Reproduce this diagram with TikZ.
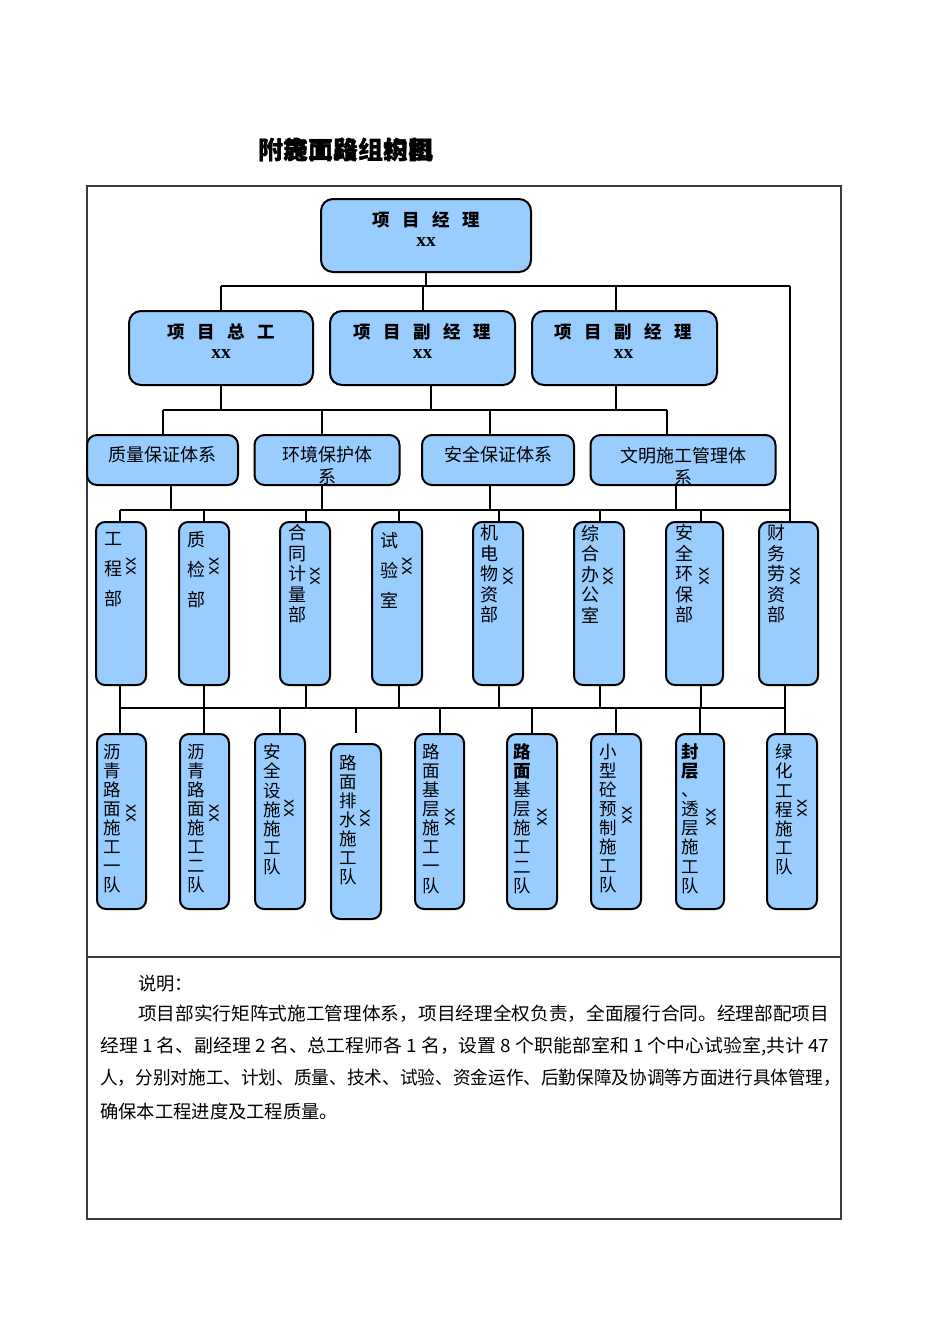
\documentclass[tikz,border=0pt]{standalone}
\usepackage{fontspec}
\usepackage{graphicx}
\setmainfont{Noto Sans CJK SC}
\newfontfamily\serifx{Liberation Serif}
\newfontfamily\sansx{Liberation Sans}
\usetikzlibrary{calc}
\definecolor{boxblue}{HTML}{99CCFF}
\definecolor{framegray}{HTML}{3A3A3A}
\newcommand\sep{\hspace{12.5pt}}
\begin{document}
\begin{tikzpicture}[x=1pt,y=-1pt,
  bx/.style={draw=black, line width=2pt, fill=boxblue, rounded corners=12pt, inner sep=0pt},
  vb/.style={bx, rounded corners=9pt},
  ln/.style={line width=2pt, draw=black},
  hd/.style={inner sep=0pt, font=\fontsize{17.5}{20}\selectfont\bfseries},
  xxb/.style={inner sep=0pt, font=\fontsize{19.5}{20}\selectfont\serifx\bfseries},
  sys/.style={inner sep=0pt, align=center, font=\fontsize{18}{22}\selectfont},
  colA/.style={inner sep=0pt, align=center, font=\fontsize{18}{30}\selectfont},
  colB/.style={inner sep=0pt, align=center, font=\fontsize{18}{20.5}\selectfont},
  colT/.style={inner sep=0pt, align=center, font=\fontsize{17.5}{19.1}\selectfont},
  xr/.style={inner sep=0pt, rotate=-90, font=\fontsize{17.5}{20}\selectfont\sansx},
  desc/.style={inner sep=0pt, anchor=west, font=\fontsize{18.3}{20}\selectfont},
  ttl/.style={inner sep=0pt, font=\fontsize{25}{27}\selectfont\bfseries}
]
\useasboundingbox (0,0) rectangle (950,1344);
\fill[white] (0,0) rectangle (950,1344);

% title (overlapping text as printed)
\node[ttl] (titleA) at (346,150) {附施面路组构图};
\node[ttl] (titleB) at (346,150) {附表工段组织机};

% frame
\draw[framegray, line width=1.3pt] (87,186) rectangle (841,1219);
\draw[framegray, line width=1.3pt] (87,957) -- (841,957);

% level 0
\node[bx, minimum width=210pt, minimum height=73pt] (pm) at (426,235.5) {};
\node[hd] (pmt) at (426,220) {项\sep 目\sep 经\sep 理};
\node[xxb] (pmx) at (426,242) {xx};

% level 1
\node[bx, minimum width=184pt, minimum height=74pt] (zong) at (221,348) {};
\node[bx, minimum width=185pt, minimum height=74pt] (fu1) at (422.5,348) {};
\node[bx, minimum width=185pt, minimum height=74pt] (fu2) at (624.5,348) {};
\node[hd] (zongt) at (221,332) {项\sep 目\sep 总\sep 工};
\node[xxb] (zongx) at (221,354) {xx};
\node[hd] (fu1t) at (422.5,332) {项\sep 目\sep 副\sep 经\sep 理};
\node[xxb] (fu1x) at (422.5,354) {xx};
\node[hd] (fu2t) at (623.5,332) {项\sep 目\sep 副\sep 经\sep 理};
\node[xxb] (fu2x) at (623.5,354) {xx};

% level 2
\node[bx, rounded corners=10pt, minimum width=151pt, minimum height=50pt] (zl) at (162.5,460) {};
\node[bx, rounded corners=10pt, minimum width=145pt, minimum height=50pt] (hj) at (327,460) {};
\node[bx, rounded corners=10pt, minimum width=152pt, minimum height=50pt] (aq) at (498,460) {};
\node[bx, rounded corners=10pt, minimum width=185pt, minimum height=50pt] (wm) at (683,460) {};
\node[sys] (zlt) at (162.5,455) {质量保证体系};
\node[sys] (hjt) at (327,466) {环境保护体\\系};
\node[sys] (aqt) at (498,455) {安全保证体系};
\node[sys] (wmt) at (683.5,466) {文明施工管理体\\系};

% level 3 departments
\node[vb, minimum width=50pt, minimum height=163pt] (d1) at (121,603.5) {};
\node[vb, minimum width=50pt, minimum height=163pt] (d2) at (204,603.5) {};
\node[vb, minimum width=50pt, minimum height=163pt] (d3) at (305,603.5) {};
\node[vb, minimum width=50pt, minimum height=163pt] (d4) at (397,603.5) {};
\node[vb, minimum width=50pt, minimum height=163pt] (d5) at (498,603.5) {};
\node[vb, minimum width=50pt, minimum height=163pt] (d6) at (599,603.5) {};
\node[vb, minimum width=57pt, minimum height=163pt] (d7) at (694.5,603.5) {};
\node[vb, minimum width=59pt, minimum height=163pt] (d8) at (788.5,603.5) {};

\node[colA] (d1t) at (113,570) {工\\程\\部};
\node[colA] (d2t) at (196,570) {质\\检\\部};
\node[colB] (d3t) at (297,574) {合\\同\\计\\量\\部};
\node[colA] (d4t) at (389,570) {试\\验\\室};
\node[colB] (d5t) at (489,574) {机\\电\\物\\资\\部};
\node[colB] (d6t) at (590,574) {综\\合\\办\\公\\室};
\node[colB] (d7t) at (684,574) {安\\全\\环\\保\\部};
\node[colB] (d8t) at (776,574) {财\\务\\劳\\资\\部};

\node[xr] (d1x) at (131,566) {xx};
\node[xr] (d2x) at (214,566) {xx};
\node[xr] (d3x) at (315,576) {xx};
\node[xr] (d4x) at (407,566) {xx};
\node[xr] (d5x) at (508,576) {xx};
\node[xr] (d6x) at (608,576) {xx};
\node[xr] (d7x) at (704,576) {xx};
\node[xr] (d8x) at (795,576) {xx};

% level 4 teams
\node[vb, minimum width=49pt, minimum height=175pt] (t1) at (121.5,821.5) {};
\node[vb, minimum width=49pt, minimum height=175pt] (t2) at (204.5,821.5) {};
\node[vb, minimum width=50pt, minimum height=175pt] (t3) at (280,821.5) {};
\node[vb, minimum width=50pt, minimum height=175pt] (t4) at (356,831.5) {};
\node[vb, minimum width=49pt, minimum height=175pt] (t5) at (439.5,821.5) {};
\node[vb, minimum width=50pt, minimum height=175pt] (t6) at (532,821.5) {};
\node[vb, minimum width=50pt, minimum height=175pt] (t7) at (616,821.5) {};
\node[vb, minimum width=48pt, minimum height=175pt] (t8) at (700,821.5) {};
\node[vb, minimum width=50pt, minimum height=175pt] (t9) at (792,821.5) {};

\node[colT] (t1t) at (112,818.5) {沥\\青\\路\\面\\施\\工\\一\\队};
\node[colT] (t2t) at (196,818.5) {沥\\青\\路\\面\\施\\工\\二\\队};
\node[colT] (t3t) at (272,809.5) {安\\全\\设\\施\\施\\工\\队};
\node[colT] (t4t) at (348,820) {路\\面\\排\\水\\施\\工\\队};
\node[colT] (t5t) at (431,818.5) {路\\面\\基\\层\\施\\工\\一\\队};
\node[colT] (t6t) at (522,818.5) {{\bfseries 路}\\{\bfseries 面}\\基\\层\\施\\工\\二\\队};
\node[colT] (t7t) at (608,818.5) {小\\型\\砼\\预\\制\\施\\工\\队};
\node[colT] (t8t) at (690,818.5) {{\bfseries 封}\\{\bfseries 层}\\、\\透\\层\\施\\工\\队};
\node[colT] (t9t) at (784,809.5) {绿\\化\\工\\程\\施\\工\\队};

\node[xr] (t1x) at (131,813) {xx};
\node[xr] (t2x) at (214,813) {xx};
\node[xr] (t3x) at (289,808) {xx};
\node[xr] (t4x) at (365,818) {xx};
\node[xr] (t5x) at (450,817) {xx};
\node[xr] (t6x) at (542,817) {xx};
\node[xr] (t7x) at (627,815) {xx};
\node[xr] (t8x) at (711,817) {xx};
\node[xr] (t9x) at (802,808) {xx};

% connectors level 0 -> 1
\coordinate (j1) at (426,286);
\coordinate (j1L) at (zong.north |- j1);
\coordinate (j1R) at ([xshift=1.5pt]d8.north |- j1);
\draw[ln] (pm.south) -- (j1);
\draw[ln] (j1L) -- (j1R);
\draw[ln] (zong.north) -- (j1L);
\draw[ln] (fu1.north) -- (fu1.north |- j1);
\draw[ln] ([xshift=-9pt]fu2.north) -- ([xshift=-9pt]fu2.north |- j1);
\draw[ln] (j1R) -- ([xshift=1.5pt]d8.north);

% level 1 -> 2
\coordinate (j2) at (400,410);
\draw[ln] (zong.south) -- (zong.south |- j2);
\draw[ln] ([xshift=8.5pt]fu1.south) -- ([xshift=8.5pt]fu1.south |- j2);
\draw[ln] ([xshift=-8.5pt]fu2.south) -- ([xshift=-8.5pt]fu2.south |- j2);
\draw[ln] (zl.north |- j2) -- ([xshift=-16pt]wm.north |- j2);
\draw[ln] (zl.north) -- (zl.north |- j2);
\draw[ln] ([xshift=-5pt]hj.north) -- ([xshift=-5pt]hj.north |- j2);
\draw[ln] ([xshift=-8pt]aq.north) -- ([xshift=-8pt]aq.north |- j2);
\draw[ln] ([xshift=-16pt]wm.north) -- ([xshift=-16pt]wm.north |- j2);

% level 2 -> 3
\coordinate (j3) at (400,510);
\draw[ln] ([xshift=8.5pt]zl.south) -- ([xshift=8.5pt]zl.south |- j3);
\draw[ln] ([xshift=-5pt]hj.south) -- ([xshift=-5pt]hj.south |- j3);
\draw[ln] ([xshift=-8pt]aq.south) -- ([xshift=-8pt]aq.south |- j3);
\draw[ln] ([xshift=-7pt]wm.south) -- ([xshift=-7pt]wm.south |- j3);
\draw[ln] ([xshift=-1pt]d1.north |- j3) -- (j1R |- j3);
\draw[ln] ([xshift=-1pt]d1.north) -- ([xshift=-1pt]d1.north |- j3);
\draw[ln] (d2.north) -- (d2.north |- j3);
\draw[ln] ([xshift=1pt]d3.north) -- ([xshift=1pt]d3.north |- j3);
\draw[ln] ([xshift=2pt]d4.north) -- ([xshift=2pt]d4.north |- j3);
\draw[ln] ([xshift=1pt]d5.north) -- ([xshift=1pt]d5.north |- j3);
\draw[ln] ([xshift=1pt]d6.north) -- ([xshift=1pt]d6.north |- j3);
\draw[ln] ([xshift=6.5pt]d7.north) -- ([xshift=6.5pt]d7.north |- j3);

% level 3 -> 4
\coordinate (j4) at (400,708);
\draw[ln] ([xshift=-1pt]d1.south) -- ([xshift=-1pt]d1.south |- j4);
\draw[ln] (d2.south) -- (d2.south |- j4);
\draw[ln] ([xshift=1pt]d3.south) -- ([xshift=1pt]d3.south |- j4);
\draw[ln] ([xshift=2pt]d4.south) -- ([xshift=2pt]d4.south |- j4);
\draw[ln] ([xshift=1pt]d5.south) -- ([xshift=1pt]d5.south |- j4);
\draw[ln] ([xshift=1pt]d6.south) -- ([xshift=1pt]d6.south |- j4);
\draw[ln] ([xshift=6pt]d7.south) -- ([xshift=6pt]d7.south |- j4);
\draw[ln] ([xshift=-3.5pt]d8.south) -- ([xshift=-3.5pt]d8.south |- j4);
\draw[ln] ([xshift=-1pt]d1.south |- j4) -- ([xshift=-3.5pt]d8.south |- j4);
\coordinate (t4top) at (356,733);
\draw[ln] ([xshift=-1.5pt]t1.north) -- ([xshift=-1.5pt]t1.north |- j4);
\draw[ln] ([xshift=-0.5pt]t2.north) -- ([xshift=-0.5pt]t2.north |- j4);
\draw[ln] (t3.north) -- (t3.north |- j4);
\draw[ln] (t4top) -- (t4top |- j4);
\draw[ln] (t5.north) -- (t5.north |- j4);
\draw[ln] (t6.north) -- (t6.north |- j4);
\draw[ln] (t7.north) -- (t7.north |- j4);
\draw[ln] (t8.north) -- (t8.north |- j4);
\draw[ln] ([xshift=-7.5pt]t9.north) -- ([xshift=-7.5pt]t9.north |- j4);

% description
\node[desc] (sm) at (138,984) {说明：};
\node[desc] (p1) at (138,1014) {\resizebox{691pt}{\height}{项目部实行矩阵式施工管理体系，项目经理全权负责，全面履行合同。经理部配项目}};
\node[desc] (p2) at (100,1046) {\resizebox{729pt}{\height}{经理 1 名、副经理 2 名、总工程师各 1 名，设置 8 个职能部室和 1 个中心试验室,共计 47}};
\node[desc] (p3) at (100,1078) {\resizebox{741pt}{\height}{人，分别对施工、计划、质量、技术、试验、资金运作、后勤保障及协调等方面进行具体管理，}};
\node[desc] (p4) at (100,1111) {确保本工程进度及工程质量。};
\end{tikzpicture}
\end{document}
